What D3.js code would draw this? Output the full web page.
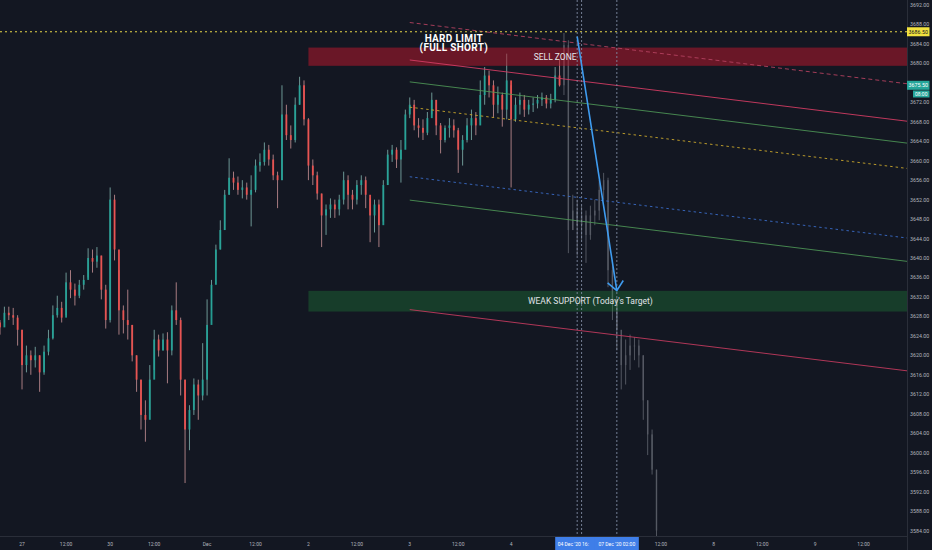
<!DOCTYPE html>
<html><head><meta charset="utf-8">
<script src="https://cdnjs.cloudflare.com/ajax/libs/d3/7.8.5/d3.min.js"></script>
<style>html,body{margin:0;padding:0;background:#131722;overflow:hidden}</style>
</head><body><svg id="c" width="932" height="550"></svg>
<script>
// ---------- DATA ----------
// trading sessions (hourly slots, hour 1 = daily break)
const dayLabels    = ["26","27","30","Dec","2","3","4","5","7","8","9"];
const dayFirstHour = [16, 2, 2, 0, 0, 0, 0, 0, 2, 0, 0];
const dayLastHour  = [20, 21, 23, 23, 23, 23, 23, 0, 23, 23, 23];
const breakHour = 1;

const firstOpen = 3626.75;
const closes = [3625.75,3628.75,3628.25,3627.75,3625.25,3618.0,3620.0,3619.0,3620.0,3616.5,
3620.75,3623.5,3628.25,3629.75,3627.75,3635.0,3633.5,3632.25,3634.5,3635.5,
3640.0,3639.25,3640.5,3633.5,3627.25,3652.0,3641.75,3629.25,3627.25,3626.25,
3620.0,3615.0,3607.75,3606.75,3615.0,3623.25,3621.0,3623.25,3621.0,3629.25,
3627.25,3615.0,3604.75,3608.75,3614.0,3611.75,3615.0,3626.25,3634.5,3641.75,
3645.75,3653.0,3656.5,3655.5,3654.0,3654.5,3653.0,3654.0,3659.0,3659.75,
3662.25,3660.25,3657.0,3656.0,3669.5,3665.25,3664.25,3671.5,3675.5,3668.5,
3659.0,3657.0,3653.25,3648.75,3650.0,3651.0,3650.0,3652.0,3656.0,3653.0,
3652.0,3655.0,3656.0,3653.0,3648.75,3651.0,3646.75,3655.0,3661.25,3662.25,
3660.25,3662.25,3669.5,3671.5,3667.25,3666.75,3665.75,3668.75,3672.5,3667.25,
3664.25,3666.75,3667.25,3666.25,3662.25,3664.25,3667.25,3668.75,3667.25,3673.5,
3677.5,3675.5,3671.5,3673.5,3670.5,3676.5,3668.5,3671.5,3672.5,3670.5,
3671.5,3671.75,3672.5,3673.0,3671.75,3672.5,3677.5,3675.5];
const highs = [3627.25,3630.0,3630.0,3629.75,3628.25,3625.25,3622.0,3621.0,3621.75,3620.0,
3622.0,3625.25,3630.25,3632.25,3631.0,3637.0,3637.5,3634.75,3635.5,3636.5,
3642.0,3641.75,3642.25,3640.5,3634.5,3654.5,3653.0,3637.5,3630.25,3633.5,
3626.25,3620.0,3615.0,3610.75,3618.0,3625.25,3624.25,3624.5,3624.75,3630.25,
3635.0,3627.75,3615.0,3609.75,3615.25,3615.0,3622.5,3631.5,3635.5,3642.75,
3647.75,3654.0,3660.5,3657.75,3656.75,3656.0,3655.5,3657.0,3660.25,3661.5,
3663.75,3663.25,3661.25,3657.75,3675.5,3671.5,3667.25,3673.0,3677.25,3676.5,
3668.75,3660.25,3657.75,3653.25,3651.0,3652.25,3652.0,3653.0,3657.75,3657.0,
3654.0,3656.0,3657.0,3656.75,3652.25,3652.0,3652.0,3656.0,3662.25,3663.25,
3662.75,3664.25,3670.5,3673.0,3672.5,3668.75,3668.5,3670.0,3674.0,3672.5,
3667.75,3667.25,3668.75,3668.5,3666.75,3665.25,3668.75,3670.5,3670.0,3676.5,
3679.25,3678.5,3676.5,3675.25,3674.0,3682.0,3675.5,3673.0,3674.0,3673.5,
3672.5,3673.0,3673.5,3674.0,3673.5,3673.75,3679.25,3680.75];
const lows = [3624.25,3626.75,3627.25,3626.25,3622.0,3613.0,3616.5,3616.0,3617.5,3612.5,
3616.0,3620.0,3623.25,3627.75,3626.75,3628.25,3631.75,3630.25,3631.75,3633.5,
3636.0,3637.0,3638.0,3631.5,3625.5,3626.75,3639.5,3624.25,3624.5,3623.25,
3618.75,3612.5,3604.75,3602.25,3608.75,3617.0,3619.75,3621.0,3614.25,3620.0,
3626.25,3611.75,3593.75,3600.5,3607.75,3606.75,3610.75,3611.75,3629.25,3637.5,
3641.75,3645.75,3653.0,3654.0,3653.0,3652.25,3652.0,3646.5,3653.5,3657.75,
3659.0,3659.0,3656.0,3650.25,3656.0,3664.25,3662.5,3663.75,3671.5,3667.25,
3656.0,3655.0,3652.0,3642.25,3644.75,3648.25,3648.25,3648.75,3651.0,3650.0,
3650.0,3651.0,3653.0,3650.25,3643.25,3645.25,3642.25,3647.5,3655.0,3659.75,
3658.5,3655.5,3664.25,3668.75,3666.25,3664.75,3664.25,3665.25,3669.5,3665.25,
3661.5,3663.75,3664.75,3664.75,3657.5,3659.0,3663.75,3664.25,3665.25,3668.5,
3671.5,3673.0,3669.0,3669.75,3667.0,3668.5,3654.5,3668.0,3669.5,3669.0,
3669.5,3670.0,3670.75,3671.25,3670.75,3670.75,3672.0,3675.25];

// projected (ghost) bars that follow the last real bar
const ghostCloses = [3683.75,3645.75,3649.75,3646.75,3648.75,3644.75,3648.75,3649.75,3654.0,3656.0,3637.5,
3631.5,3625.25,3618.0,3620.0,3622.0,3622.0,3620.0,3610.75,3603.75,3596.5,3584.0];
const ghostHighs  = [3686.25,3684.75,3653.0,3652.0,3650.75,3649.75,3650.75,3652.0,3656.0,3657.5,3656.5,
3639.5,3631.75,3623.25,3623.25,3624.25,3623.75,3623.25,3620.0,3610.75,3604.75,3596.5];
const ghostLows   = [3673.5,3641.0,3645.75,3640.5,3643.75,3639.0,3643.75,3646.75,3647.75,3652.0,3634.0,
3627.25,3621.0,3613.0,3614.0,3617.0,3619.0,3617.5,3606.75,3599.5,3595.5,3582.75];

// x axis ticks (labels under the date markers are hidden in the reference)
const tickSlots  = ["27 2","27 12","30 2","30 12","Dec 0","Dec 12","2 0","2 12","3 0","3 12","4 0","7 12","8 0","8 12","9 0","9 12"];
const tickLabels = ["27","12:00","30","12:00","Dec","12:00","2","12:00","3","12:00","4","12:00","8","12:00","9","12:00"];
const priceTicks = d3.range(3584, 3693, 4);

// levels and drawings
const hardLimit = 3686.5;
const lastPrice = 3675.5;
const sellZone = [3679.5, 3683.25];
const supportZone = [3629.0, 3633.25];
const zoneStart = "2 0", zoneEnd = "9 22";
const chStart = "3 0", chEnd = "9 22";
const channelNames = ["topDash","pinkTop","greenTop","yellowDash","blueDash","greenLow","pinkLow"];
const channelStartPrices = [3688.4,3680.7,3676.2,3671.0,3656.7,3651.9,3629.4];
const channelEndPrices   = [3675.8,3668.1,3663.6,3658.4,3644.1,3639.3,3616.8];
const arrowFrom = ["4 16", 3685.5], arrowTo = ["7 2", 3633.3];
const vLineSlots = ["4 16","4 17","7 2"];
const dateLabels = [["4 16","04 Dec '20  16:"],["7 2","07 Dec '20  02:00"]];

// ---------- CHART ----------
const W = 932, H = 550, plotR = 907, plotB = 536;
const svg = d3.select("#c");
svg.append("rect").attr("width", W).attr("height", H).attr("fill", "#131722");

const slots = [];
dayLabels.forEach((d, i) => {
  for (let h = dayFirstHour[i]; h <= dayLastHour[i]; h++) {
    if (h === breakHour) continue;
    slots.push(d + " " + h);
  }
});
const step = 4.406;
const x = d3.scaleBand().domain(slots)
  .range([-step / 2, slots.length * step - step / 2]).paddingInner(0.58).paddingOuter(0.29);
const xc = k => x(k) + x.bandwidth() / 2;
const y = d3.scaleLinear().domain([3584, 3692]).range([530.5, 5]);

const defs = svg.append("defs");
defs.append("clipPath").attr("id", "plot").append("rect")
  .attr("x", 0).attr("y", 0).attr("width", plotR).attr("height", plotB);
const plot = svg.append("g").attr("clip-path", "url(#plot)");

// candles
const bars = closes.map((c, i) => ({ key: slots[i], o: i ? closes[i - 1] : firstOpen, h: highs[i], l: lows[i], c }));
const ghost = ghostCloses.map((c, j) => ({
  key: slots[closes.length + j],
  o: j ? ghostCloses[j - 1] : closes[closes.length - 1],
  h: ghostHighs[j], l: ghostLows[j], c }));

const up = "#26a69a", dn = "#ef5350";
const cg = plot.append("g");
cg.selectAll("line.w").data(bars).join("line").attr("class", "w")
  .attr("x1", d => xc(d.key)).attr("x2", d => xc(d.key))
  .attr("y1", d => y(d.h)).attr("y2", d => y(d.l))
  .attr("stroke", d => d.c >= d.o ? "#8fc9c2" : "#e2a3a6").attr("stroke-opacity", 0.8).attr("stroke-width", 0.9);
cg.selectAll("rect.b").data(bars).join("rect").attr("class", "b")
  .attr("x", d => x(d.key)).attr("width", x.bandwidth())
  .attr("y", d => y(Math.max(d.o, d.c)))
  .attr("height", d => Math.max(0.8, Math.abs(y(d.o) - y(d.c))))
  .attr("fill", d => d.c >= d.o ? up : dn).attr("fill-opacity", 0.92);

const gg = plot.append("g").attr("opacity", 0.4);
gg.selectAll("line").data(ghost).join("line")
  .attr("x1", d => xc(d.key)).attr("x2", d => xc(d.key))
  .attr("y1", d => y(d.h)).attr("y2", d => y(d.l))
  .attr("stroke", "#c3c7d0").attr("stroke-width", 0.9);
gg.selectAll("rect").data(ghost).join("rect")
  .attr("x", d => xc(d.key) - 0.7).attr("width", 1.4)
  .attr("y", d => y(Math.max(d.o, d.c)))
  .attr("height", d => Math.max(0.8, Math.abs(y(d.o) - y(d.c))))
  .attr("fill", "#b8bcc6");

// zones
plot.append("rect").attr("x", xc(zoneStart)).attr("width", xc(zoneEnd) - xc(zoneStart))
  .attr("y", y(sellZone[1])).attr("height", y(sellZone[0]) - y(sellZone[1]))
  .attr("fill", "rgb(178,24,44)").attr("fill-opacity", 0.55);
plot.append("rect").attr("x", xc(zoneStart)).attr("width", xc(zoneEnd) - xc(zoneStart))
  .attr("y", y(supportZone[1])).attr("height", y(supportZone[0]) - y(supportZone[1]))
  .attr("fill", "rgb(34,139,60)").attr("fill-opacity", 0.33);

// channel lines
const chStyle = {
  topDash:   ["#b3415f", "4,3", 0.9],
  pinkTop:   ["#d23c63", null, 0.9],
  greenTop:  ["#4f9a57", null, 0.85],
  yellowDash:["#c9a72b", "2.5,3", 0.9],
  blueDash:  ["#3a6cc8", "2.5,3", 0.9],
  greenLow:  ["#4f9a57", null, 0.85],
  pinkLow:   ["#c23a5e", null, 0.9]
};
channelNames.forEach((n, i) => {
  const s = chStyle[n];
  plot.append("line")
    .attr("x1", xc(chStart)).attr("y1", y(channelStartPrices[i]))
    .attr("x2", xc(chEnd)).attr("y2", y(channelEndPrices[i]))
    .attr("stroke", s[0]).attr("stroke-width", s[2])
    .attr("stroke-dasharray", s[1]);
});

// hard limit dotted line
plot.append("line").attr("x1", 0).attr("x2", plotR).attr("y1", y(hardLimit)).attr("y2", y(hardLimit))
  .attr("stroke", "#e5d54a").attr("stroke-width", 1).attr("stroke-dasharray", "2,3");

// vertical dotted markers
vLineSlots.forEach(k => {
  plot.append("line").attr("x1", xc(k)).attr("x2", xc(k)).attr("y1", 0).attr("y2", plotB)
    .attr("stroke", "#7f8aa3").attr("stroke-width", 0.9).attr("stroke-dasharray", "2,2");
});

// arrow
const ax1 = xc(arrowFrom[0]), ay1 = y(arrowFrom[1]), ax2 = xc(arrowTo[0]), ay2 = y(arrowTo[1]);
const ang = Math.atan2(ay2 - ay1, ax2 - ax1);
const aLen = 12, aSpread = 0.72;
const p = d3.path();
p.moveTo(ax1, ay1); p.lineTo(ax2, ay2);
p.moveTo(ax2 - aLen * Math.cos(ang - aSpread), ay2 - aLen * Math.sin(ang - aSpread));
p.lineTo(ax2, ay2);
p.lineTo(ax2 - aLen * Math.cos(ang + aSpread), ay2 - aLen * Math.sin(ang + aSpread));
plot.append("path").attr("d", p.toString()).attr("fill", "none")
  .attr("stroke", "#3f9cf0").attr("stroke-width", 1.6).attr("stroke-linejoin", "round");

// texts
const font = "Roboto, 'Liberation Sans', sans-serif";
const txt = (t, k, price, size, weight, fill) => plot.append("text").text(t)
  .attr("x", xc(k)).attr("y", y(price)).attr("text-anchor", "middle")
  .attr("dominant-baseline", "central").attr("font-family", font)
  .attr("font-size", size).attr("font-weight", weight).attr("fill", fill);
txt("HARD LIMIT", "3 11", 3685.2, 10, "bold", "#ffffff").attr("letter-spacing", 0.3);
txt("(FULL SHORT)", "3 11", 3683.3, 10, "bold", "#ffffff").attr("letter-spacing", 0.3);
txt("SELL ZONE", "4 11", 3681.35, 8.5, "normal", "#e6e7ea");
txt("WEAK SUPPORT (Today's Target)", "4 19", 3631.1, 8.5, "normal", "#e0e3e8");

// axes borders
svg.append("line").attr("x1", plotR + 0.5).attr("x2", plotR + 0.5).attr("y1", 0).attr("y2", H)
  .attr("stroke", "#2a2e39").attr("stroke-width", 1);
svg.append("line").attr("x1", 0).attr("x2", plotR).attr("y1", plotB + 0.5).attr("y2", plotB + 0.5)
  .attr("stroke", "#2a2e39").attr("stroke-width", 1);

// y axis labels (ticks hidden behind the price labels are skipped)
const labelPrices = [hardLimit, lastPrice];
const yAxis = svg.append("g").attr("font-family", font).attr("font-size", 5.3).attr("fill", "#b2b5be");
yAxis.selectAll("text").data(priceTicks.filter(t => labelPrices.every(l => Math.abs(y(t) - y(l)) > 7)))
  .join("text")
  .attr("x", 910).attr("y", d => y(d)).attr("dominant-baseline", "central")
  .text(d => d.toFixed(2));

// x axis labels
const xAxis = svg.append("g").attr("font-family", font).attr("font-size", 5).attr("fill", "#b2b5be");
xAxis.selectAll("text").data(tickSlots).join("text")
  .attr("x", d => xc(d)).attr("y", 543.5).attr("text-anchor", "middle")
  .attr("dominant-baseline", "central").text((d, i) => tickLabels[i]);

// date labels (time marks)
dateLabels.forEach(([k, t], i) => {
  const cx = xc(k), w = 44;
  svg.append("rect").attr("x", cx - w / 2).attr("y", 537).attr("width", w).attr("height", 13)
    .attr("fill", "#3f7ee8");
  svg.append("text").attr("x", i === 0 ? cx - w / 2 + 2.5 : cx).attr("y", 543.5)
    .attr("text-anchor", i === 0 ? "start" : "middle")
    .attr("dominant-baseline", "central").attr("font-family", font).attr("font-size", 5)
    .attr("fill", "#ffffff").text(t);
});

// price labels on right axis
const priceLabel = (price, bg, fg, sub) => {
  svg.append("rect").attr("x", plotR).attr("y", y(price) - 4.5).attr("width", 22.5).attr("height", 9)
    .attr("fill", bg);
  svg.append("text").attr("x", plotR + 11.25).attr("y", y(price)).attr("text-anchor", "middle")
    .attr("dominant-baseline", "central").attr("font-family", font).attr("font-size", 5.3)
    .attr("fill", fg).text(price.toFixed(2));
  if (sub) {
    svg.append("rect").attr("x", plotR + 6).attr("y", y(price) + 5.2).attr("width", 16.5).attr("height", 7)
      .attr("fill", bg);
    svg.append("text").attr("x", plotR + 14.25).attr("y", y(price) + 8.7).attr("text-anchor", "middle")
      .attr("dominant-baseline", "central").attr("font-family", font).attr("font-size", 5)
      .attr("fill", fg).text(sub);
  }
};
priceLabel(hardLimit, "#f2e23f", "#131722");
priceLabel(lastPrice, "#26a69a", "#ffffff", "08:00");
</script></body></html>
